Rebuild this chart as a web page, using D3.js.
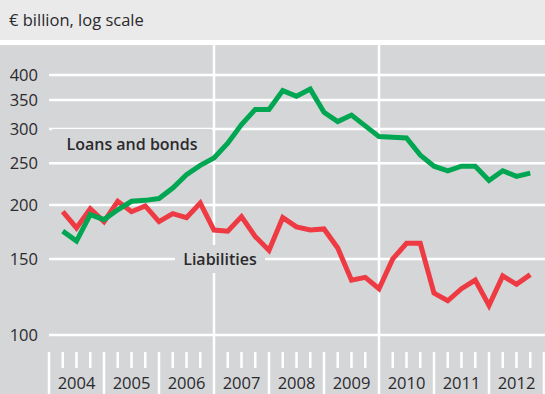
<!DOCTYPE html>
<html>
<head>
<meta charset="utf-8">
<script src="https://cdn.jsdelivr.net/npm/d3@7"></script>
<style>
  html, body { margin: 0; padding: 0; background: #ffffff; }
  svg { display: block; }
  text { font-family: "Open Sans", "Noto Sans", sans-serif; fill: #2b2a2c; }
</style>
</head>
<body>
<svg id="chart" width="545" height="394"></svg>
<script>
// Quarterly observations, 2004 Q1 – 2012 Q3 (end of quarter), € billion
const quarters = [
  "2004Q1","2004Q2","2004Q3","2004Q4","2005Q1","2005Q2","2005Q3","2005Q4",
  "2006Q1","2006Q2","2006Q3","2006Q4","2007Q1","2007Q2","2007Q3","2007Q4",
  "2008Q1","2008Q2","2008Q3","2008Q4","2009Q1","2009Q2","2009Q3","2009Q4",
  "2010Q1","2010Q2","2010Q3","2010Q4","2011Q1","2011Q2","2011Q3","2011Q4",
  "2012Q1","2012Q2","2012Q3"
];
const loansAndBonds = [
  174, 165, 190, 185, 195, 204, 205, 207,
  219, 235, 247, 257, 278, 307, 333, 333,
  368, 357, 371, 328, 312, 323, 305, 288,
  287, 286, 261, 246, 240, 246, 246, 228,
  240, 233, 237
];
const liabilities = [
  193, 177, 196, 183, 204, 193, 199, 183,
  191, 187, 202, 175, 174, 188, 169, 157,
  187, 178, 175, 176, 159, 134, 136, 128,
  150, 163, 163, 125, 120, 128, 134, 117,
  137, 131, 138
];
const years = [2004, 2005, 2006, 2007, 2008, 2009, 2010, 2011, 2012];
const yTicks = [100, 150, 200, 250, 300, 350, 400];
const dividerYears = [2007, 2010];
const unitLabel = "€ billion, log scale";

const svg = d3.select("#chart");
const W = 545, H = 394;
const plotTop = 45, plotLeft = 49;
const fontSize = 16.5;

// Header band and plot background
svg.append("rect").attr("x", 0).attr("y", 0).attr("width", W).attr("height", 40).attr("fill", "#eaeaeb");
svg.append("rect").attr("x", 0).attr("y", plotTop).attr("width", W).attr("height", H - plotTop).attr("fill", "#d5d6d8");
svg.append("text").attr("x", 9).attr("y", 26).attr("font-size", fontSize).text(unitLabel);

// Scales: quarter-end positions on a yearly time axis, log value axis
const x = d3.scaleLinear().domain([2004, 2013]).range([plotLeft, 544]);
const y = d3.scaleLog().domain([100, 400]).range([335, 75]);
const qPos = q => +q.slice(0, 4) + (+q.slice(5)) / 4;

// Horizontal gridlines with value labels
const yAxis = d3.axisLeft(y).tickValues(yTicks).tickFormat(d3.format("d")).tickSize(0).tickPadding(11);
const gy = svg.append("g").attr("transform", `translate(${plotLeft},0)`).call(yAxis);
gy.select(".domain").remove();
gy.selectAll("text").attr("font-size", fontSize).attr("font-family", "Open Sans, Noto Sans, sans-serif").attr("fill", "#2b2a2c");
svg.append("g").selectAll("line").data(yTicks).join("line")
  .attr("x1", plotLeft).attr("x2", W)
  .attr("y1", d => y(d)).attr("y2", d => y(d))
  .attr("stroke", "#ffffff").attr("stroke-width", 2.5);

// Vertical dividers
svg.append("g").selectAll("line").data(dividerYears).join("line")
  .attr("x1", d => x(d)).attr("x2", d => x(d))
  .attr("y1", plotTop).attr("y2", 352)
  .attr("stroke", "#ffffff").attr("stroke-width", 2.5);

// Bottom axis: long ticks at year boundaries, short ticks for quarters
const quarterTicks = d3.range(2004, 2013.001, 0.25);
svg.append("g").selectAll("line").data(quarterTicks).join("line")
  .attr("x1", d => x(d)).attr("x2", d => x(d))
  .attr("y1", 352)
  .attr("y2", d => Number.isInteger(d) ? H : 368)
  .attr("stroke", "#ffffff").attr("stroke-width", 2.5);
svg.append("g").selectAll("text").data(years).join("text")
  .attr("x", d => x(d + 0.5)).attr("y", 389)
  .attr("text-anchor", "middle").attr("font-size", fontSize)
  .text(d => d);

// Series labels on a background-coloured box (beneath the lines)
function seriesLabel(text, cx, cy, boxW, boxH) {
  svg.append("rect").attr("x", cx - boxW / 2).attr("y", cy - boxH / 2)
    .attr("width", boxW).attr("height", boxH).attr("fill", "#d5d6d8");
  svg.append("text").attr("x", cx).attr("y", cy + 6)
    .attr("text-anchor", "middle").attr("font-size", 16).attr("font-weight", 600)
    .text(text);
}
seriesLabel("Loans and bonds", 132, 144, 160, 30);
seriesLabel("Liabilities", 220, 259, 90, 28);

// Series lines
const line = d3.line().x((d, i) => x(qPos(quarters[i]))).y(d => y(d));
svg.append("path").datum(liabilities).attr("d", line)
  .attr("fill", "none").attr("stroke", "#ee3a43").attr("stroke-width", 5)
  .attr("stroke-linejoin", "miter");
svg.append("path").datum(loansAndBonds).attr("d", line)
  .attr("fill", "none").attr("stroke", "#00a651").attr("stroke-width", 5)
  .attr("stroke-linejoin", "miter");
</script>
</body>
</html>
